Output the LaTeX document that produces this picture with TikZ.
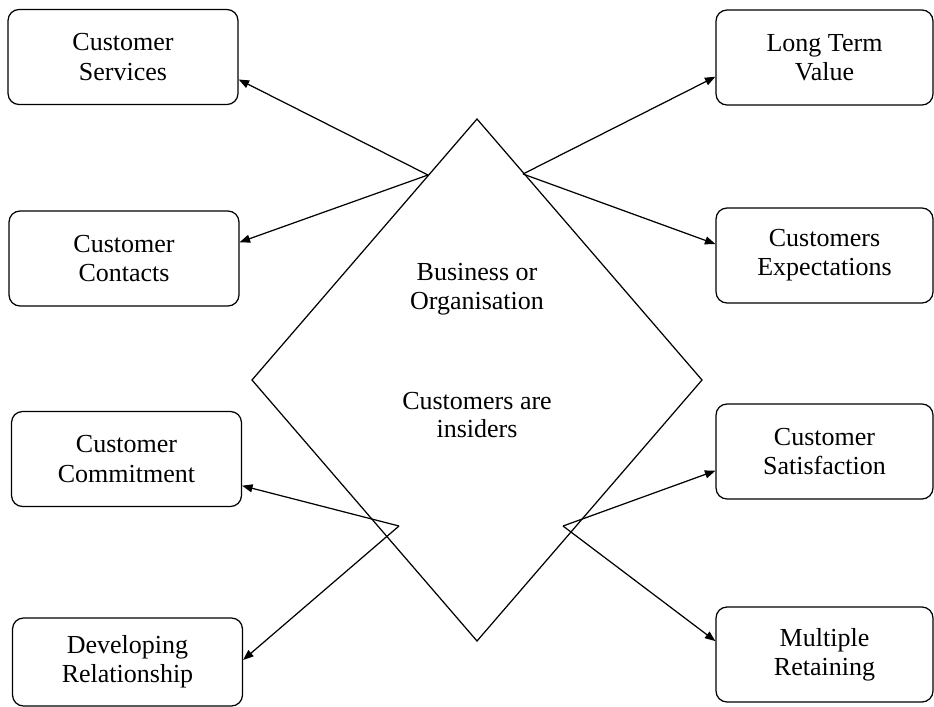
\documentclass[tikz,border=0pt]{standalone}
\usepackage{fontspec}
\setmainfont{Liberation Serif}
\usetikzlibrary{arrows.meta}
\begin{document}
\begin{tikzpicture}[x=0.02cm, y=-0.02cm, line width=0.7pt,
  box/.style={draw, rounded corners=0.22cm, align=center, inner sep=0pt, minimum height=1.9cm, font=\fontsize{14.8}{16.6}\selectfont},
  lbox/.style={box, minimum width=4.6cm},
  rbox/.style={box, minimum width=4.34cm},
  txt/.style={align=center, font=\fontsize{14.8}{16.2}\selectfont},
  arr/.style={-{Triangle[length=0.21cm, width=0.16cm]}}]
\useasboundingbox (0,0) rectangle (934,707);

\draw (477,119) -- (252,380) -- (477,641) -- (702,380) -- cycle;
\node[txt] (t1) at (477,289) {Business or\\Organisation};
\node[txt] (t2) at (477,415) {Customers are\\insiders};

\node[lbox] (v1) at (123,57) {Customer\\Services};
\node[lbox] (v2) at (124,258.5) {Customer\\Contacts};
\node[lbox] (v3) at (126.5,459) {Customer\\Commitment};
\node[lbox, minimum height=1.76cm] (v4) at (127.5,662) {Developing\\Relationship};
\node[rbox] (v5) at (824.5,57.5) {Long Term\\Value};
\node[rbox] (v6) at (824.5,255.5) {Customers\\Expectations};
\node[rbox] (v7) at (824.5,451.5) {Customer\\Satisfaction};
\node[rbox] (v8) at (824.5,654.5) {Multiple\\Retaining};

\coordinate (c1) at (428,175);
\coordinate (c2) at (523,174);
\coordinate (c3) at (399,526);
\coordinate (c4) at (563,526);

\draw[arr] (c1) -- (v1.-11);
\draw[arr] (c1) -- (v2.8);
\draw[arr] (c2) -- (v5.190);
\draw[arr] (c2) -- (v6.174);
\draw[arr] (c3) -- (v3.-13);
\draw[arr] (c3) -- (v4.1);
\draw[arr] (c4) -- (v7.190);
\draw[arr] (c4) -- (v8.173);
\end{tikzpicture}
\end{document}
